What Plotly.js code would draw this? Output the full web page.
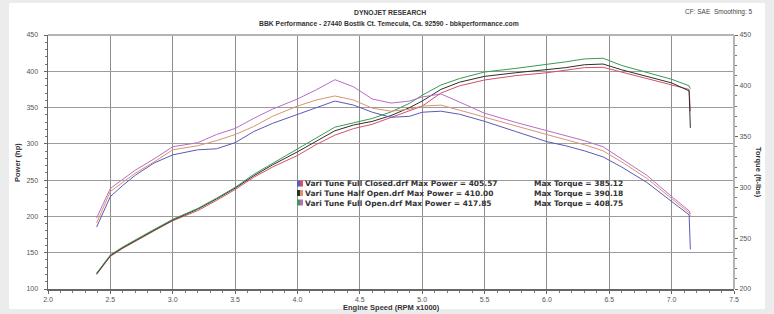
<!DOCTYPE html>
<html><head><meta charset="utf-8">
<script src="https://cdn.plot.ly/plotly-3.0.1.min.js"></script>
<style>html,body{margin:0;padding:0;background:#ececec;overflow:hidden}#chart{width:774px;height:314px}</style>
</head><body><div id="chart"></div>
<script>
const rpm = [2.39, 2.45, 2.5, 2.6, 2.7, 2.85, 3.0, 3.2, 3.35, 3.5, 3.65, 3.8, 4.0, 4.15, 4.3, 4.45, 4.6, 4.75, 4.9, 5.0, 5.15, 5.3, 5.5, 5.75, 6.0, 6.15, 6.3, 6.45, 6.6, 6.8, 7.0, 7.14];
const powerFullOpen   = [122, 136, 147, 158, 168, 182, 196, 211, 225, 240, 258, 273, 292, 308, 323, 329, 335, 344, 356, 367, 381, 390, 399, 404, 409, 413, 417, 418, 408, 398, 389, 380];
const powerHalfOpen   = [121, 135, 146, 157, 167, 181, 195, 210, 224, 239, 256, 271, 289, 304, 318, 326, 331, 339, 350, 359, 375, 385, 393, 398, 402, 405, 409, 410, 402, 393, 384, 373];
const powerFullClosed = [120, 134, 145, 156, 166, 180, 194, 208, 222, 237, 254, 268, 284, 299, 312, 321, 327, 336, 345, 352, 370, 380, 388, 394, 398, 401, 405, 405.5, 399, 390, 382, 375];
const torqueFullOpen   = [270, 285, 299, 308, 317, 328, 340, 344, 352, 358, 368, 377, 387, 396, 406, 399, 387, 383, 385, 389, 392, 384, 373, 364, 356, 351, 346, 340, 328, 312, 291, 277];
const torqueHalfOpen   = [265, 282, 296, 305, 314, 325, 337, 341, 346, 352, 360, 370, 380, 386, 390, 386, 378, 375, 377, 380, 381, 376, 369, 361, 352, 347, 342, 336, 325, 309, 289, 275];
const torqueFullClosed = [261, 278, 291, 302, 312, 324, 332, 337, 338, 344, 355, 363, 372, 379, 385, 381, 374, 369, 370, 374, 375, 372, 365, 355, 345, 341, 336, 330, 320, 305, 286, 273];
const endRpm = 7.15;
// end-of-run values: [Full Open, Half Open, Full Closed]
const powerEnd  = [376, 322, 345];
const torqueEnd = [274, 272, 239];
const runNames = ["Vari Tune Full Closed.drf", "Vari Tune Half Open.drf", "Vari Tune Full Open.drf"];
const maxPower  = ["405.57", "410.00", "417.85"];
const maxTorque = ["385.12", "390.18", "408.75"];
const xTicks = [2.0, 2.5, 3.0, 3.5, 4.0, 4.5, 5.0, 5.5, 6.0, 6.5, 7.0, 7.5];

const C = {gPow:'#3c9a50', kPow:'#2e2e2e', rPow:'#d4506a', pTq:'#b86cc8', oTq:'#d99470', bTq:'#5a5ab8'};
const FONT = '"Liberation Sans", Arial, sans-serif';
const LFONT = '"DejaVu Sans", Arial, sans-serif';

function tr(x, y, end, color, axis) {
  return {x: x.concat([endRpm]), y: y.concat([end]), type:'scatter', mode:'lines',
          yaxis: axis, line:{color:color, width:1}, hoverinfo:'skip', showlegend:false};
}
const data = [
  tr(rpm, torqueFullClosed, torqueEnd[2], C.bTq, 'y2'),
  tr(rpm, torqueHalfOpen, torqueEnd[1], C.oTq, 'y2'),
  tr(rpm, torqueFullOpen, torqueEnd[0], C.pTq, 'y2'),
  tr(rpm, powerFullClosed, powerEnd[2], C.rPow, 'y'),
  tr(rpm, powerHalfOpen, powerEnd[1], C.kPow, 'y'),
  tr(rpm, powerFullOpen, powerEnd[0], C.gPow, 'y')
];

// pixel helpers for plot area: left 48, right 734, top 35, bottom 289
const L=48, R=734, T=35, B=289;
const px = v => (v - L)/(R - L);
const py = v => (B - v)/(B - T);

const ann = [];
function txt(x, y, s, opt) {
  ann.push(Object.assign({xref:'paper', yref:'paper', x:px(x), y:py(y), text:s, showarrow:false,
    xanchor:'center', yanchor:'middle', font:{family:FONT, size:7, color:'#333'}}, opt||{}));
}
txt(390, 13, '<b>DYNOJET RESEARCH</b>', {font:{family:FONT,size:6.8,color:'#333'}});
txt(389, 24, '<b>BBK Performance - 27440 Bostik Ct. Temecula, Ca. 92590 - bbkperformance.com</b>', {font:{family:FONT,size:6.8,color:'#333'}});
txt(719, 12, 'CF: SAE  Smoothing: 5', {font:{family:FONT,size:6.5,color:'#444'}});
txt(391, 307, '<b>Engine Speed (RPM x1000)</b>', {font:{family:FONT,size:7.5,color:'#333'}});
txt(17, 163, '<b>Power (hp)</b>', {textangle:-90, font:{family:FONT,size:7.5,color:'#333'}});
txt(758, 172, '<b>Torque (ft-lbs)</b>', {textangle:90, font:{family:FONT,size:7.5,color:'#333'}});

const rowY = [183.5, 193, 202.5];
const col1 = runNames.map((n,i)=>'<b>' + n + ' Max Power = ' + maxPower[i] + '</b>').join('<br>');
const col2 = maxTorque.map(v=>'<b>Max Torque = ' + v + '</b>').join('<br>');
txt(304, 193, col1, {xanchor:'left', align:'left', borderpad:0, font:{family:LFONT,size:7.5,color:'#333'}});
txt(533, 193, col2, {xanchor:'left', align:'left', borderpad:0, font:{family:LFONT,size:7.5,color:'#333'}});

const sqCols = [[C.bTq, C.rPow], [C.kPow, C.oTq], [C.gPow, C.pTq]];
const shapes = [
  {type:'rect', xref:'paper', yref:'paper', x0:px(9), x1:px(765), y0:py(309), y1:py(3), fillcolor:'#ffffff', line:{width:0}, layer:'below'},
  {type:'line', xref:'paper', yref:'paper', x0:0, x1:1, y0:1, y1:1, line:{color:'#b4b4b4', width:2}},
  {type:'line', xref:'paper', yref:'paper', x0:1, x1:1, y0:0, y1:1, line:{color:'#b4b4b4', width:2}}
];
for (let i=0;i<3;i++){
  shapes.push({type:'rect', xref:'paper', yref:'paper', x0:px(297), x1:px(300), y0:py(rowY[i]+3), y1:py(rowY[i]-3), fillcolor:sqCols[i][0], line:{width:0}});
  shapes.push({type:'rect', xref:'paper', yref:'paper', x0:px(300), x1:px(303), y0:py(rowY[i]+3), y1:py(rowY[i]-3), fillcolor:sqCols[i][1], line:{width:0}});
}

const tickFont = {family:FONT, size:7, color:'#555'};
const layout = {
  width:774, height:314,
  margin:{l:L, r:774-R, t:T, b:314-B, pad:0},
  paper_bgcolor:'#ececec', plot_bgcolor:'rgba(0,0,0,0)',
  showlegend:false,
  xaxis:{range:[2.0,7.5], tickvals:xTicks, ticktext:xTicks.map(v=>v.toFixed(1)),
    showgrid:true, gridcolor:'#8e8e8e', gridwidth:1, zeroline:false,
    showline:true, linecolor:'#666', linewidth:1.5,
    ticks:'outside', ticklen:3, tickcolor:'#666', tickfont:tickFont,
    minor:{dtick:0.1, ticks:'outside', ticklen:2, tickcolor:'#777', showgrid:false}},
  yaxis:{range:[100,450], dtick:50, showgrid:true, gridcolor:'#9c9c9c', gridwidth:1, zeroline:false,
    showline:true, linecolor:'#666', linewidth:1.5,
    ticks:'outside', ticklen:3, tickcolor:'#666', tickfont:tickFont, ticklabelstandoff:4,
    minor:{dtick:10, ticks:'outside', ticklen:2, tickcolor:'#777', showgrid:false}},
  yaxis2:{range:[200,450], dtick:50, overlaying:'y', side:'right', showgrid:false, zeroline:false,
    showline:false, ticks:'outside', ticklen:3, tickcolor:'#666', tickfont:tickFont,
    minor:{dtick:10, ticks:'outside', ticklen:2, tickcolor:'#777', showgrid:false}},
  annotations:ann, shapes:shapes
};
Plotly.newPlot('chart', data, layout, {staticPlot:true, displayModeBar:false});
</script></body></html>
